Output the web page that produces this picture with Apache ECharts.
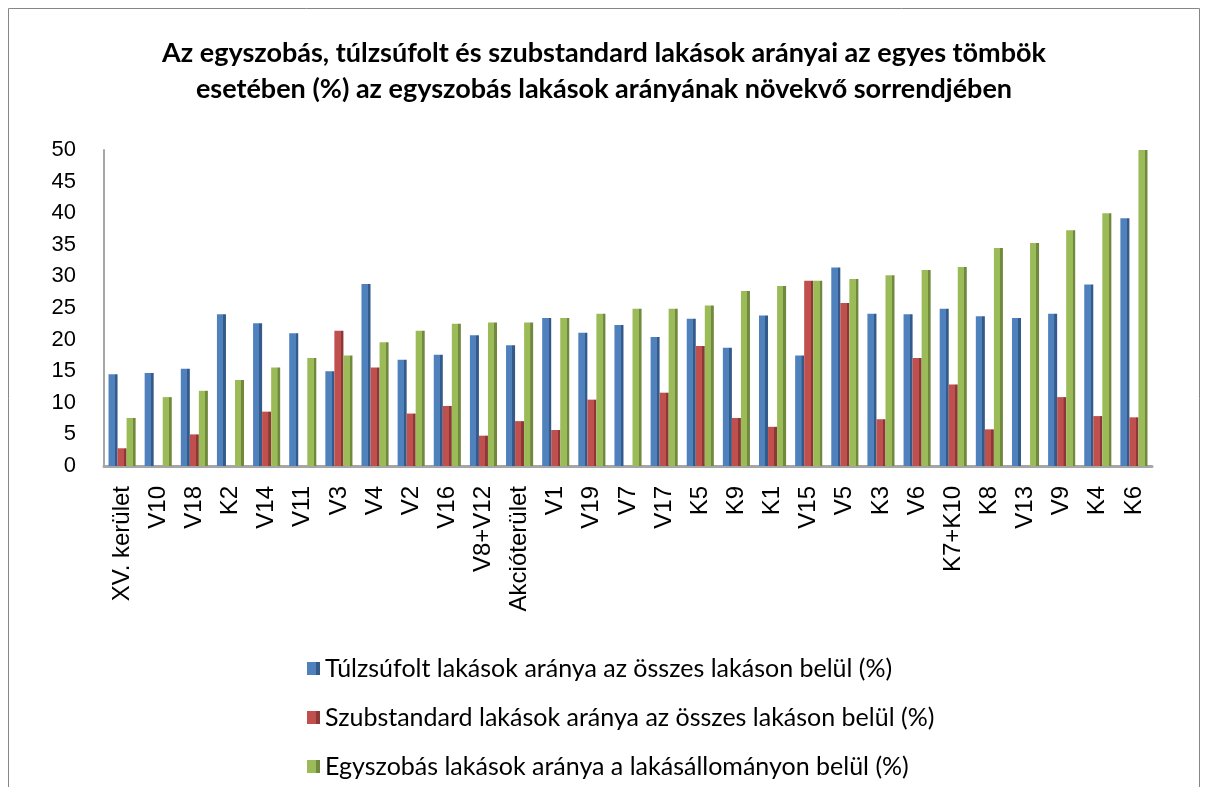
<!DOCTYPE html>
<html>
<head>
<meta charset="utf-8">
<script src="https://cdn.jsdelivr.net/npm/echarts@6/dist/echarts.min.js"></script>
<style>
  html, body { margin: 0; padding: 0; background: #fff; }
  #chart { width: 1208px; height: 787px; }
</style>
</head>
<body>
<div id="chart"></div>
<script>
const categories = ['XV. kerület', 'V10', 'V18', 'K2', 'V14', 'V11', 'V3', 'V4', 'V2', 'V16',
  'V8+V12', 'Akcióterület', 'V1', 'V19', 'V7', 'V17', 'K5', 'K9', 'K1', 'V15',
  'V5', 'K3', 'V6', 'K7+K10', 'K8', 'V13', 'V9', 'K4', 'K6'];

const tulzsufolt = [14.5, 14.7, 15.4, 24.0, 22.6, 21.0, 15.0, 28.8, 16.8, 17.6,
  20.7, 19.1, 23.4, 21.1, 22.3, 20.4, 23.3, 18.7, 23.8, 17.5,
  31.4, 24.1, 24.0, 24.9, 23.7, 23.4, 24.1, 28.7, 39.2];

const szubstandard = [2.8, 0, 5.0, 0, 8.6, 0, 21.4, 15.6, 8.3, 9.5,
  4.8, 7.1, 5.7, 10.5, 0, 11.6, 19.0, 7.6, 6.2, 29.3,
  25.8, 7.4, 17.1, 12.9, 5.8, 0, 10.9, 7.9, 7.7];

const egyszobas = [7.6, 10.9, 11.9, 13.6, 15.6, 17.1, 17.5, 19.6, 21.4, 22.5,
  22.7, 22.7, 23.4, 24.1, 24.9, 24.9, 25.4, 27.7, 28.5, 29.3,
  29.6, 30.2, 31.0, 31.5, 34.5, 35.3, 37.3, 40.0, 50.0];

const yTicks = [0, 5, 10, 15, 20, 25, 30, 35, 40, 45, 50];

const seriesNames = [
  'Túlzsúfolt lakások aránya az összes lakáson belül (%)',
  'Szubstandard lakások aránya az összes lakáson belül (%)',
  'Egyszobás lakások aránya a lakásállományon belül (%)'
];

// flat bars with a darker right strip, a nod to the 3D columns
function face(light, dark) {
  return new echarts.graphic.LinearGradient(0, 0, 1, 0, [
    { offset: 0, color: light },
    { offset: 0.7, color: light },
    { offset: 0.71, color: dark },
    { offset: 1, color: dark }
  ]);
}

const axisFont = 'Liberation Sans';
const textFont = 'Lato';

const option = {
  animation: false,
  color: ['#4F81BD', '#C0504D', '#9BBB59'],
  title: {
    text: 'Az egyszobás, túlzsúfolt és szubstandard lakások arányai az egyes tömbök\nesetében (%) az egyszobás lakások arányának növekvő sorrendjében',
    left: 'center',
    top: 30,
    textStyle: {
      fontFamily: textFont,
      fontSize: 27,
      fontWeight: 'bold',
      color: '#000',
      lineHeight: 36
    }
  },
  graphic: [{
    type: 'rect',
    shape: { x: 8.5, y: 8.5, width: 1191, height: 800 },
    style: { fill: 'none', stroke: '#868686', lineWidth: 1 },
    silent: true
  }],
  legend: {
    orient: 'vertical',
    left: 302,
    top: 651,
    itemWidth: 13,
    itemHeight: 13,
    itemGap: 24,
    icon: 'rect',
    textStyle: { fontFamily: textFont, fontSize: 25, color: '#000', lineHeight: 25 },
    data: seriesNames
  },
  grid: {
    left: 104,
    right: 56,
    top: 150,
    bottom: 321
  },
  xAxis: {
    type: 'category',
    data: categories,
    axisTick: { show: false },
    axisLine: { lineStyle: { color: '#A6A6A6', width: 3 } },
    axisLabel: {
      rotate: 90,
      interval: 0,
      margin: 20,
      fontFamily: axisFont,
      fontSize: 24,
      color: '#000'
    }
  },
  yAxis: {
    type: 'value',
    min: yTicks[0],
    max: yTicks[yTicks.length - 1],
    interval: 5,
    splitLine: { show: false },
    axisTick: { show: false },
    axisLine: { show: true, lineStyle: { color: '#A6A6A6', width: 2 } },
    axisLabel: {
      margin: 28,
      fontFamily: axisFont,
      fontSize: 22,
      color: '#000'
    }
  },
  series: [
    {
      name: seriesNames[0],
      type: 'bar',
      data: tulzsufolt,
      barGap: '0%',
      barCategoryGap: '25%',
      itemStyle: { color: face('#4F81BD', '#345A8A') }
    },
    {
      name: seriesNames[1],
      type: 'bar',
      data: szubstandard,
      itemStyle: { color: face('#C0504D', '#8C3836') }
    },
    {
      name: seriesNames[2],
      type: 'bar',
      data: egyszobas,
      itemStyle: { color: face('#9BBB59', '#71893F') }
    }
  ]
};

const chart = echarts.init(document.getElementById('chart'));
chart.setOption(option);
</script>
</body>
</html>
